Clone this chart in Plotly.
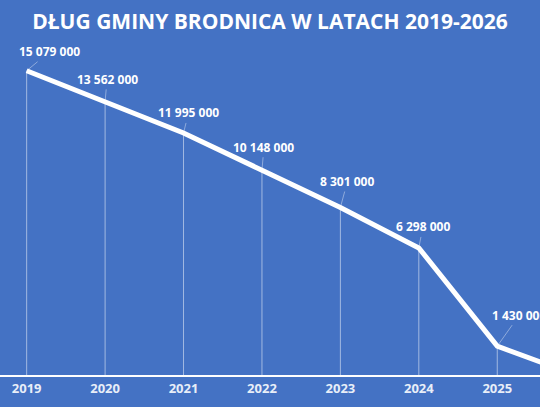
import plotly.graph_objects as go

years = [2019, 2020, 2021, 2022, 2023, 2024, 2025, 2026]
debt = [15079000, 13562000, 11995000, 10148000, 8301000, 6298000, 1430000, 0]
labels = ["15 079 000", "13 562 000", "11 995 000", "10 148 000",
          "8 301 000", "6 298 000", "1 430 000", "0"]
tick_years = ["2019", "2020", "2021", "2022", "2023", "2024", "2025", "2026"]

bg = "#4472C4"

fig = go.Figure()
fig.add_trace(go.Scatter(
    x=years, y=debt, mode="lines",
    line=dict(color="white", width=5),
    error_y=dict(type="data", symmetric=False, array=[0] * len(debt),
                 arrayminus=debt, width=0, thickness=1,
                 color="rgba(255,255,255,0.5)"),
    hoverinfo="skip", showlegend=False,
))

# label offsets (px) from each point
offsets = [(23, -19), (2, -22), (5, -20), (2, -23), (7, -26), (4, -21), (22, -31), (0, -25)]
for yr, val, txt, (dx, dy) in zip(years, debt, labels, offsets):
    fig.add_annotation(
        x=yr, y=val, text=txt, showarrow=True, arrowhead=0,
        arrowwidth=0.8, arrowcolor="rgba(255,255,255,0.5)",
        ax=dx, ay=dy, standoff=0,
        font=dict(family="Open Sans", size=12, color="white", weight="bold"),
    )

fig.update_layout(
    width=540, height=407,
    paper_bgcolor=bg, plot_bgcolor=bg,
    margin=dict(l=0, r=0, t=60, b=32),
    title=dict(text="DŁUG GMINY BRODNICA W LATACH 2019-2026",
               x=0.5, xanchor="center", y=1 - 22 / 407, yanchor="middle",
               yref="container",
               font=dict(family="Open Sans", size=21, color="white", weight="bold")),
    xaxis=dict(range=[2018.66, 2025.545], tickvals=years, ticktext=tick_years,
               showgrid=False, zeroline=False, showline=True,
               linecolor="white", linewidth=2, ticks="",
               tickfont=dict(family="Open Sans", size=13, color="#E8EEF8", weight="bold")),
    yaxis=dict(range=[0, 15610000], visible=False, showgrid=False, zeroline=False),
)

fig.write_html("out.html", config={"displayModeBar": False},
               post_script="document.body.style.margin='0';")
